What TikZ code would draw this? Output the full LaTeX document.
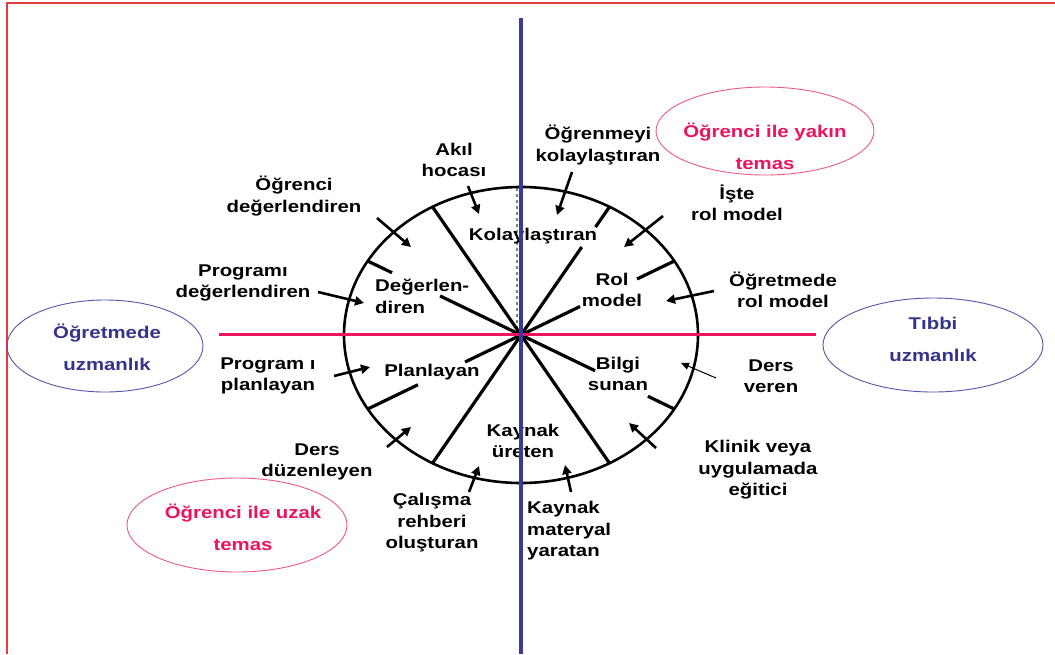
\documentclass[tikz,border=0pt]{standalone}
\usepackage{fontspec}
\setmainfont{Liberation Sans}[FakeStretch=1.2]
\usetikzlibrary{arrows.meta,shapes.geometric,calc}
\definecolor{axblue}{RGB}{58,58,158}
\definecolor{axpink}{RGB}{236,20,96}
\definecolor{elblue}{RGB}{85,85,170}
\definecolor{txblue}{RGB}{52,52,140}
\definecolor{elpink}{RGB}{236,90,135}
\definecolor{framered}{RGB}{225,60,60}
\begin{document}
\begin{tikzpicture}[x=1pt,y=-1pt,
 lbl/.style={font=\fontsize{17}{21.5}\selectfont\bfseries, align=center, inner sep=0pt},
 olbl/.style={font=\fontsize{17}{32}\selectfont\bfseries, align=center, inner sep=0pt},
 spoke/.style={line width=3.2pt},
 arr/.style={line width=2.6pt,-{Triangle[length=9pt,width=9pt]}},
 thinarr/.style={line width=1pt,-{Triangle[length=8pt,width=7pt]}},
 oval/.style={ellipse, draw, line width=0.9pt, inner sep=0pt}]
\useasboundingbox (0,0) rectangle (1055,654);
\fill[white] (0,0) rectangle (1055,654);
% frame
\coordinate (F1) at (7,654);
\coordinate (F2) at (7,3);
\coordinate (F3) at (1055,3);
\draw[framered, line width=1.1pt] (F1) -- (F2) -- (F3);

% wheel
\coordinate (C) at (521,335);
\coordinate (P30) at (674.3,261);
\coordinate (P60) at (609.5,206.8);
\coordinate (P120) at (432.5,206.8);
\coordinate (P150) at (367.7,261);
\coordinate (P210) at (367.7,409);
\coordinate (P240) at (432.5,463.2);
\coordinate (P300) at (609.5,463.2);
\coordinate (P330) at (674.3,409);
\coordinate (D1) at (517,188);
\coordinate (D2) at (517,335);
\draw[gray, dashed, line width=1.4pt] (D1) -- (D2);
\draw[line width=2.6pt] (C) ellipse [x radius=177pt, y radius=148pt];
\draw[spoke] (P30) -- ($(C)!0.757!(P30)$) ($(C)!0.385!(P30)$) -- (C);
\draw[spoke] (P60) -- ($(C)!0.842!(P60)$) ($(C)!0.686!(P60)$) -- (C);
\draw[spoke] (P120) -- (C);
\draw[spoke] (P150) -- ($(C)!0.841!(P150)$) ($(C)!0.528!(P150)$) -- (C);
\draw[spoke] (P210) -- ($(C)!0.672!(P210)$) ($(C)!0.365!(P210)$) -- (C);
\draw[spoke] (P240) -- (C);
\draw[spoke] (P300) -- (C);
\draw[spoke] (P330) -- ($(C)!0.828!(P330)$) ($(C)!0.483!(P330)$) -- (C);

% inner labels
\node[lbl] (kolay) at (533,236) {Kolaylaştıran};
\node[lbl, align=left, anchor=west] (degerlen) at (375,296.5) {Değerlen-\\diren};
\node[lbl] (rol) at (612,290) {Rol\\model};
\node[lbl] (planlayan) at (432,372) {Planlayan};
\node[lbl] (bilgi) at (618,374) {Bilgi\\sunan};
\node[lbl] (kaynak) at (523,441) {Kaynak\\üreten};

% outer labels
\node[lbl] (akil) at (454,160) {Akıl\\hocası};
\node[lbl] (ogrkol) at (598,145) {Öğrenmeyi\\kolaylaştıran};
\node[lbl] (ogrdeg) at (294,196) {Öğrenci\\değerlendiren};
\node[lbl] (iste) at (737,203) {İşte\\rol model};
\node[lbl] (progdeg) at (243,283) {Programı\\değerlendiren};
\node[lbl] (ogrrol) at (783,290) {Öğretmede\\rol model};
\node[lbl] (progplan) at (268,376) {Program ı\\planlayan};
\node[lbl] (dersveren) at (771,376) {Ders\\veren};
\node[lbl] (dersduz) at (317,462) {Ders\\düzenleyen};
\node[lbl] (klinik) at (758,470) {Klinik veya\\uygulamada\\eğitici};
\node[lbl] (calisma) at (432,523) {Çalışma\\rehberi\\oluşturan};
\node[lbl, align=left, anchor=west] (kaynakmat) at (527,531) {Kaynak\\materyal\\yaratan};

% axes
\coordinate (HL) at (219,334.5);
\coordinate (HR) at (816,334.5);
\coordinate (VT) at (521,18);
\coordinate (VB) at (521,654);
\draw[axpink, line width=3.8pt] (HL) -- (HR);
\draw[axblue, line width=4pt] (VT) -- (VB);

% arrows
\coordinate (a1) at (468,186);  \coordinate (b1) at (479,214);
\coordinate (a2) at (572,172);  \coordinate (b2) at (557,215);
\coordinate (a3) at (377,218);  \coordinate (b3) at (411,247);
\coordinate (a4) at (663,216);  \coordinate (b4) at (624,247);
\coordinate (a5) at (318,292);  \coordinate (b5) at (364,303);
\coordinate (a6) at (714,291);  \coordinate (b6) at (666,301);
\coordinate (a7) at (334,376);  \coordinate (b7) at (370,367);
\coordinate (a8) at (716,378);  \coordinate (b8) at (681,363);
\coordinate (a9) at (387,447);  \coordinate (b9) at (411,427);
\coordinate (a10) at (656,448); \coordinate (b10) at (629,423);
\coordinate (a11) at (469,492); \coordinate (b11) at (479,466);
\coordinate (a12) at (571,492); \coordinate (b12) at (565,465);
\foreach \i in {1,2,3,4,5,6,7,9,10,11,12} {\draw[arr] (a\i) -- (b\i);}
\draw[thinarr] (a8) -- (b8);

% ovals
\node[oval, draw=elblue, minimum width=196pt, minimum height=92pt] (uzm) at (105,346) {};
\node[olbl, text=txblue] (uzmt) at (107,347) {Öğretmede\\uzmanlık};
\node[oval, draw=elblue, minimum width=220pt, minimum height=94pt] (tibbi) at (933,345) {};
\node[olbl, text=txblue] (tibbit) at (933,339) {Tıbbi\\uzmanlık};
\node[oval, draw=elpink, minimum width=218pt, minimum height=88pt] (yakin) at (765,131) {};
\node[olbl, text=axpink] (yakint) at (765,146) {Öğrenci ile yakın\\temas};
\node[oval, draw=elpink, minimum width=220pt, minimum height=94pt] (uzak) at (237,525) {};
\node[olbl, text=axpink] (uzakt) at (243,527.5) {Öğrenci ile uzak\\temas};
\end{tikzpicture}
\end{document}
